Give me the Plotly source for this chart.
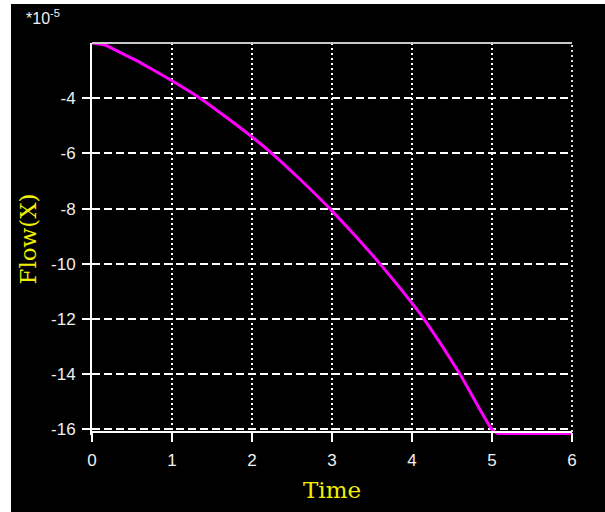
import plotly.graph_objects as go

# ---- data ----
time = [0.00, 0.17, 0.33, 0.54, 0.75, 1.00, 1.35, 1.67, 2.00, 2.23, 2.58, 2.85,
        3.00, 3.27, 3.60, 4.00, 4.15, 4.60, 5.00, 5.07, 6.00]
flow = [-2.00, -2.08, -2.31, -2.61, -2.95, -3.37, -4.00, -4.67, -5.40, -5.95, -6.88, -7.64,
        -8.08, -8.92, -10.00, -11.42, -12.00, -14.00, -16.00, -16.14, -16.14]
x_ticks = [0, 1, 2, 3, 4, 5, 6]
x_ticklabels = ["0", "1", "2", "3", "4", "5", "6"]
y_ticks = [-4, -6, -8, -10, -12, -14, -16]
y_ticklabels = ["-4", "-6", "-8", "-10", "-12", "-14", "-16"]
x_title = "Time"
y_title = "Flow(X)"
scale_text = "*10<sup>-5</sup>"

W, H = 605, 512
ML, MR, MT, MB = 92, 33, 43, 77
PW, PH = W - ML - MR, H - MT - MB
Y_RANGE = [-16.2, -2.0]
X_RANGE = [0, 6]
AXIS_Y = -16.08  # where the x axis line sits

def px_to_paper_x(px):
    return (px - ML) / PW

def px_to_paper_y(py):
    return (H - MB - py) / PH

fig = go.Figure()
fig.add_trace(go.Scatter(x=time, y=flow, mode="lines",
                         line=dict(color="#ff00ff", width=3, shape="spline", smoothing=0.6),
                         showlegend=False))

tickfont = dict(family="Liberation Sans, Arial, sans-serif", size=17, color="#f0f0f0")
titlefont = dict(family="DejaVu Serif, serif", size=23, color="#f0f000")

fig.update_layout(
    width=W, height=H,
    margin=dict(l=ML, r=MR, t=MT, b=MB, pad=0),
    paper_bgcolor="white",
    plot_bgcolor="black",
    xaxis=dict(
        range=X_RANGE, tickvals=x_ticks, ticktext=x_ticklabels,
        showline=True, linecolor="white", linewidth=2,
        ticks="outside", ticklen=9, tickwidth=2, tickcolor="white",
        ticklabelstandoff=4,
        showgrid=True, gridcolor="white", gridwidth=2, griddash="2px,3px",
        zeroline=False, tickfont=tickfont,
        anchor="free", position=(AXIS_Y - Y_RANGE[0]) / (Y_RANGE[1] - Y_RANGE[0]),
        title=dict(text=x_title, font=titlefont, standoff=12),
    ),
    yaxis=dict(
        range=Y_RANGE, tickvals=y_ticks, ticktext=y_ticklabels,
        showline=True, linecolor="white", linewidth=2,
        ticks="outside", ticklen=8, tickwidth=2, tickcolor="white",
        ticklabelstandoff=3,
        showgrid=True, gridcolor="white", gridwidth=2, griddash="8px,4px",
        zeroline=False, tickfont=tickfont,
        title=dict(text=y_title, font=titlefont, standoff=8),
    ),
    shapes=[
        dict(type="rect", xref="paper", yref="paper", layer="below",
             x0=px_to_paper_x(11), x1=px_to_paper_x(W + 5),
             y0=px_to_paper_y(H + 5), y1=px_to_paper_y(4),
             fillcolor="black", line=dict(width=0)),
        dict(type="line", xref="x domain", yref="y domain",
             x0=0, x1=1, y0=1, y1=1, line=dict(color="#c8c8c8", width=2)),
        dict(type="line", xref="x domain", yref="paper",
             x0=1, x1=1, y0=px_to_paper_y(432), y1=1,
             line=dict(color="#dcdcdc", width=2, dash="2px,3px")),
    ],
    annotations=[
        dict(text=scale_text, xref="paper", yref="paper",
             x=px_to_paper_x(24), y=px_to_paper_y(5), xanchor="left", yanchor="top",
             showarrow=False,
             font=dict(family="Liberation Sans, Arial, sans-serif", size=16, color="#f0f0f0")),
    ],
)

fig.write_html("out.html")
